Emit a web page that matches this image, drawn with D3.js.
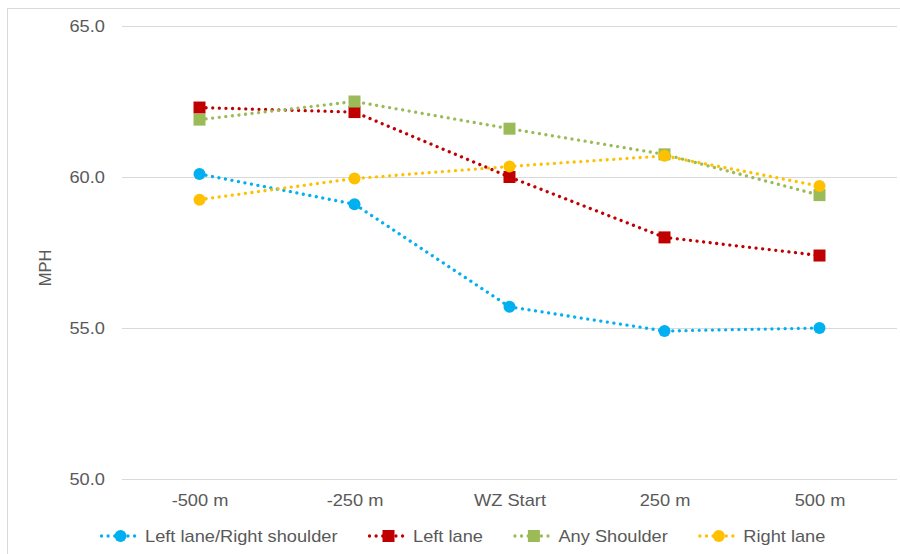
<!DOCTYPE html>
<html>
<head>
<meta charset="utf-8">
<script src="https://cdn.jsdelivr.net/npm/d3@7"></script>
<style>
  html, body { margin: 0; padding: 0; background: #fff; }
  svg { display: block; font-family: "Liberation Sans", Arial, sans-serif; }
</style>
</head>
<body>
<svg id="chart" width="900" height="554"></svg>
<script>
// Positions along the work zone approach
const categories = ["-500 m", "-250 m", "WZ Start", "250 m", "500 m"];

// Mean speed (MPH) per lane configuration
const leftLaneRightShoulder = [60.1, 59.1, 55.7, 54.9, 55.0];
const leftLane = [62.3, 62.15, 60.0, 58.0, 57.4];
const anyShoulder = [61.9, 62.5, 61.6, 60.75, 59.4];
const rightLane = [59.25, 59.95, 60.35, 60.7, 59.7];

const yTicks = [50, 55, 60, 65];
const seriesNames = ["Left lane/Right shoulder", "Left lane", "Any Shoulder", "Right lane"];

const series = [
  { name: seriesNames[0], values: leftLaneRightShoulder, color: "#00B0F0", shape: "circle" },
  { name: seriesNames[1], values: leftLane, color: "#C00000", shape: "square" },
  { name: seriesNames[2], values: anyShoulder, color: "#9BBB59", shape: "square" },
  { name: seriesNames[3], values: rightLane, color: "#FFC000", shape: "circle" }
];

const svg = d3.select("#chart");
const textColor = "#595959";
const gridColor = "#d9d9d9";
const sx = 1.14; // horizontal text widening

// outer frame
svg.append("rect")
  .attr("x", 7.5).attr("y", 8.5)
  .attr("width", 900).attr("height", 560)
  .attr("fill", "none").attr("stroke", gridColor).attr("stroke-width", 1);

const plot = { left: 122, right: 897, top: 26, bottom: 479 };

const x = d3.scalePoint()
  .domain(categories)
  .range([plot.left, plot.right])
  .padding(0.5);

const y = d3.scaleLinear()
  .domain([50, 65])
  .range([plot.bottom, plot.top]);

// gridlines
svg.append("g")
  .selectAll("line")
  .data(yTicks)
  .join("line")
  .attr("x1", plot.left).attr("x2", plot.right)
  .attr("y1", d => Math.round(y(d)) + 0.5).attr("y2", d => Math.round(y(d)) + 0.5)
  .attr("stroke", gridColor).attr("stroke-width", 1);

// y axis labels
const yAxis = svg.append("g")
  .attr("transform", `translate(${plot.left},0)`)
  .call(d3.axisLeft(y).tickValues(yTicks).tickFormat(d3.format(".1f")).tickSize(0).tickPadding(15));
yAxis.select(".domain").remove();
yAxis.selectAll("text")
  .attr("fill", textColor)
  .attr("font-size", 16)
  .attr("font-family", "Liberation Sans, Arial, sans-serif")
  .attr("transform", `scale(${sx},1)`);

// x axis labels
const xAxis = svg.append("g")
  .attr("transform", `translate(0,${plot.bottom})`)
  .call(d3.axisBottom(x).tickSize(0).tickPadding(16));
xAxis.select(".domain").remove();
xAxis.selectAll("text")
  .attr("fill", textColor)
  .attr("font-size", 16)
  .attr("font-family", "Liberation Sans, Arial, sans-serif")
  .attr("transform", `scale(${sx},1)`);

// y axis title
svg.append("text")
  .attr("transform", "translate(51,268) rotate(-90)")
  .attr("text-anchor", "middle")
  .attr("font-size", 16.5)
  .attr("fill", textColor)
  .text("MPH");

const line = d3.line()
  .x((d, i) => x(categories[i]))
  .y(d => y(d));

function drawMarker(g, shape, color, cx, cy) {
  if (shape === "circle") {
    g.append("circle").attr("cx", cx).attr("cy", cy).attr("r", 6).attr("fill", color);
  } else {
    g.append("rect").attr("x", cx - 6).attr("y", cy - 6).attr("width", 12).attr("height", 12).attr("fill", color);
  }
}

const dash = "0.01 6.6";

series.forEach(s => {
  const g = svg.append("g");
  g.append("path")
    .attr("d", line(s.values))
    .attr("fill", "none")
    .attr("stroke", s.color)
    .attr("stroke-width", 3.3)
    .attr("stroke-linecap", "round")
    .attr("stroke-dasharray", dash);
  s.values.forEach((v, i) => drawMarker(g, s.shape, s.color, x(categories[i]), y(v)));
});

// legend
const legend = svg.append("g");
let lx = 100;
const ly = 536;
series.forEach(s => {
  const g = legend.append("g");
  g.append("line")
    .attr("x1", lx + 1.5).attr("x2", lx + 41)
    .attr("y1", ly).attr("y2", ly)
    .attr("stroke", s.color).attr("stroke-width", 3.3)
    .attr("stroke-linecap", "round").attr("stroke-dasharray", dash);
  drawMarker(g, s.shape, s.color, lx + 20.5, ly);
  const t = g.append("text")
    .attr("transform", `translate(${lx + 45},${ly + 6}) scale(${sx},1)`)
    .attr("font-size", 16)
    .attr("fill", textColor)
    .text(s.name);
  const w = t.node().getComputedTextLength() * sx;
  lx = lx + 45 + w + 30.5;
});
</script>
</body>
</html>
